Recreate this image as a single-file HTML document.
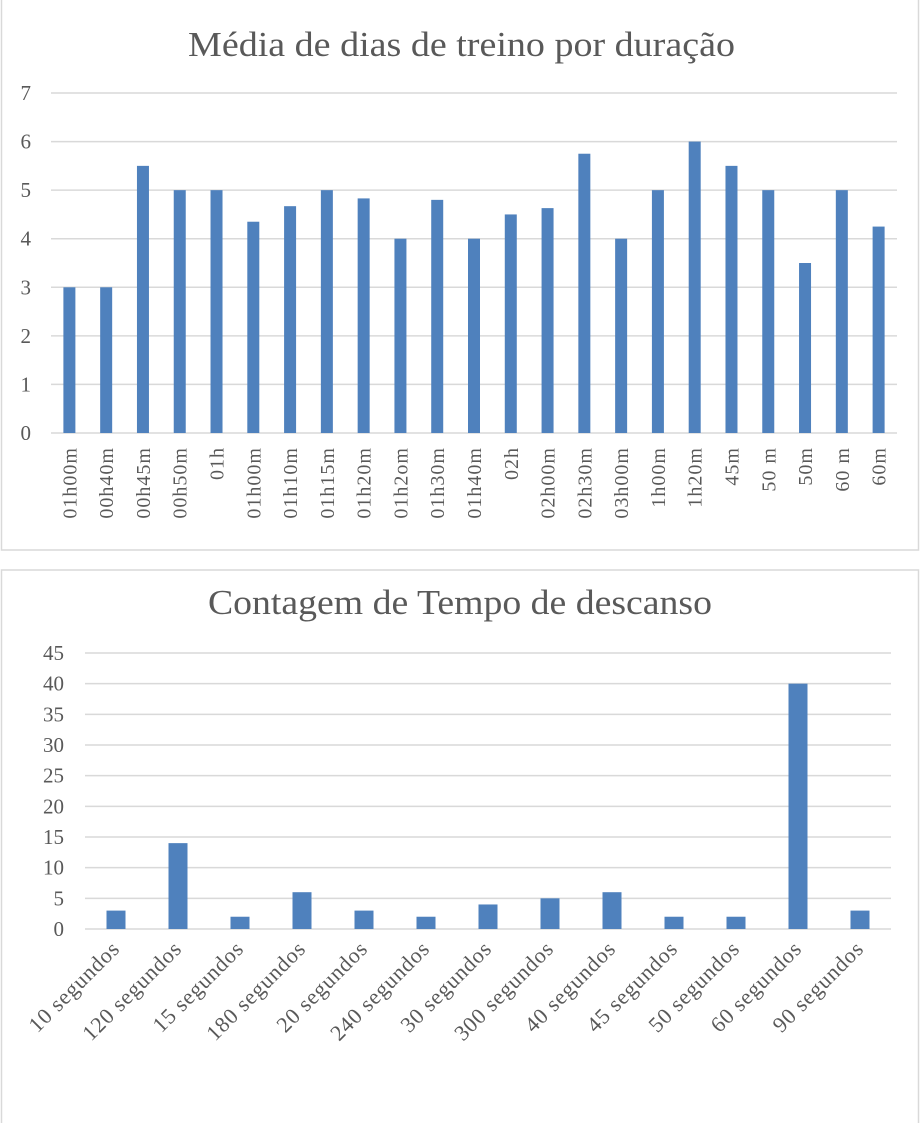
<!DOCTYPE html>
<html><head><meta charset="utf-8"><style>
html,body{margin:0;padding:0;background:#fff}
svg{display:block}
text{font-family:"Liberation Serif",serif;fill:#595959}
</style></head><body>
<svg width="921" height="1123" viewBox="0 0 921 1123" xmlns="http://www.w3.org/2000/svg">
<rect x="1.5" y="-2" width="917" height="552" fill="#fff" stroke="#d9d9d9" stroke-width="1.5"/>
<rect x="1.5" y="570" width="917" height="560" fill="#fff" stroke="#d9d9d9" stroke-width="1.5"/>
<text x="188" y="56" font-size="35" textLength="547" lengthAdjust="spacingAndGlyphs">Média de dias de treino por duração</text>
<g id="c1"></g>
<text x="208" y="614" font-size="35" textLength="504" lengthAdjust="spacingAndGlyphs">Contagem de Tempo de descanso</text>
<g id="c2"></g>
<script>
(function(){
var ns="http://www.w3.org/2000/svg";
function el(p,t,a,txt){var e=document.createElementNS(ns,t);for(var k in a)e.setAttribute(k,a[k]);if(txt!=null)e.textContent=txt;p.appendChild(e);return e;}
var g=document.getElementById('c1');
var y0=433,st=48.57,L=51,R=897;
for(var i=0;i<=7;i++){var y=y0-i*st;el(g,'line',{x1:L,x2:R,y1:y,y2:y,stroke:'#d9d9d9','stroke-width':1.5});el(g,'text',{x:31,y:y+7,'font-size':21,'text-anchor':'end'},i);}
var labs=["01h00m","00h40m","00h45m","00h50m","01h","01h00m","01h10m","01h15m","01h20m","01h2om","01h30m","01h40m","02h","02h00m","02h30m","03h00m","1h00m","1h20m","45m","50 m","50m","60 m","60m"];
var v=[3,3,5.5,5,5,4.35,4.67,5,4.83,4,4.8,4,4.5,4.63,5.75,4,5,6,5.5,5,3.5,5,4.25];
var w=(R-L)/23;
for(var i=0;i<23;i++){var cx=L+w*(i+0.5);el(g,'rect',{x:cx-6,y:y0-v[i]*st,width:12,height:v[i]*st,fill:'#4f81bd'});
el(g,'text',{x:0,y:0,'font-size':20,'letter-spacing':1,'text-anchor':'end',transform:'translate('+(cx+7)+',447) rotate(-90)'},labs[i]);}
var g2=document.getElementById('c2');
var b=929,s=(929-653)/45,L2=85,R2=891;
for(var i=0;i<=9;i++){var y=b-i*5*s;el(g2,'line',{x1:L2,x2:R2,y1:y,y2:y,stroke:'#d9d9d9','stroke-width':1.5});el(g2,'text',{x:64,y:y+7,'font-size':21,'text-anchor':'end'},i*5);}
var l2=["10 segundos","120 segundos","15 segundos","180 segundos","20 segundos","240 segundos","30 segundos","300 segundos","40 segundos","45 segundos","50 segundos","60 segundos","90 segundos"];
var v2=[3,14,2,6,3,2,4,5,6,2,2,40,3];
var w2=(R2-L2)/13;
for(var i=0;i<13;i++){var cx=L2+w2*(i+0.5);el(g2,'rect',{x:cx-9.5,y:b-v2[i]*s,width:19,height:v2[i]*s,fill:'#4f81bd'});
el(g2,'text',{x:0,y:0,'font-size':22,'letter-spacing':0.8,'text-anchor':'end',transform:'translate('+(cx+5)+',950) rotate(-45)'},l2[i]);}
})();
</script>
</svg>
</body></html>
